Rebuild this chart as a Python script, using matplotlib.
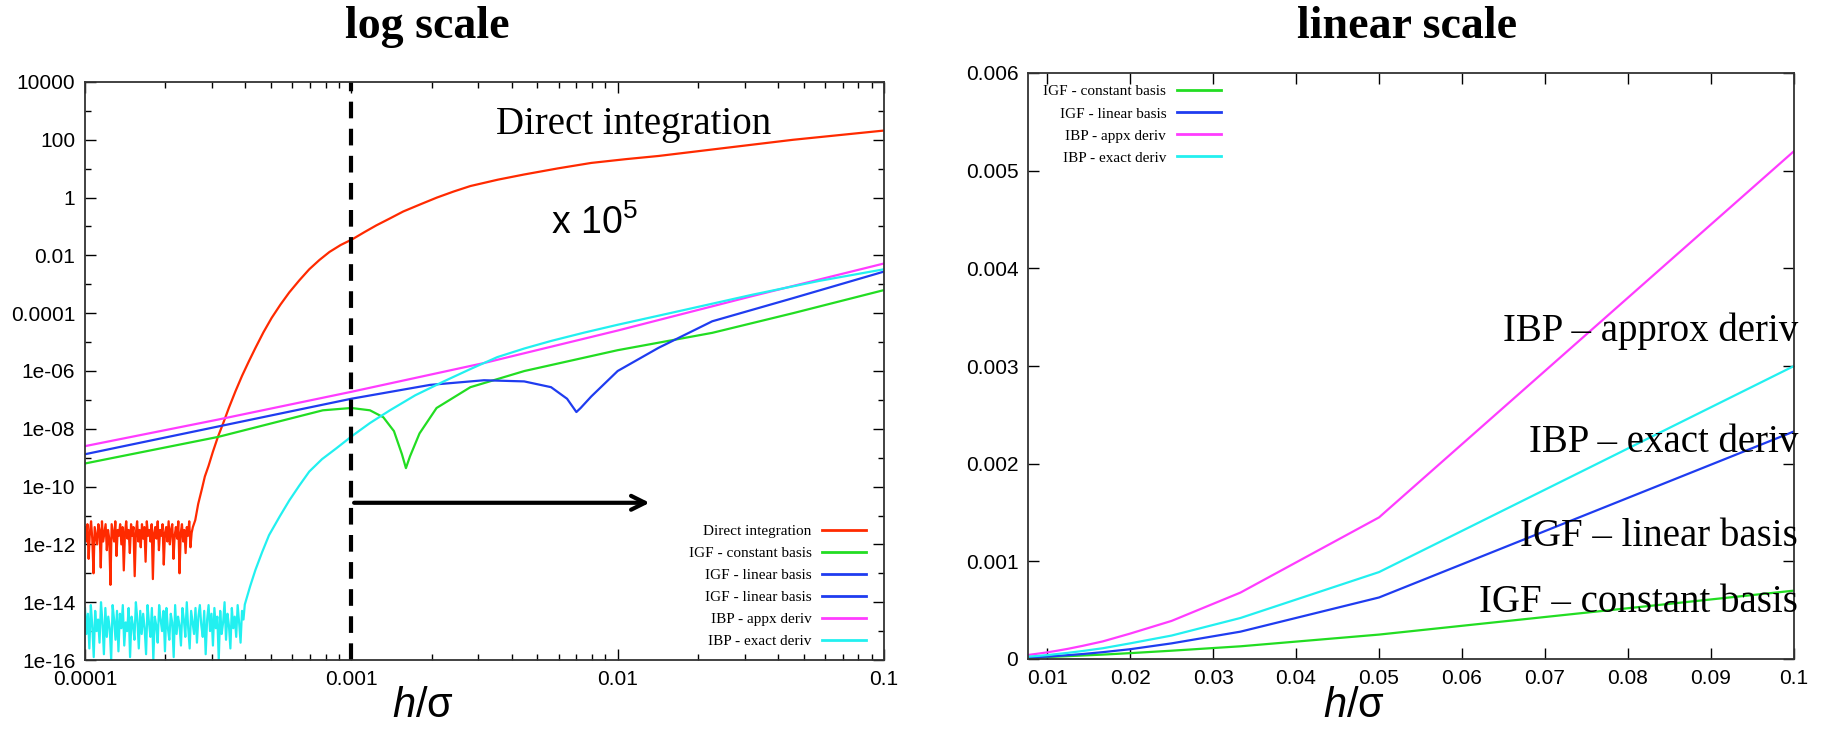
import numpy as np
import matplotlib
matplotlib.use('Agg')
import matplotlib.pyplot as plt
from matplotlib.lines import Line2D
from matplotlib.ticker import FixedLocator, FuncFormatter, LogLocator, NullFormatter

plt.rcParams['font.family'] = ['Liberation Sans', 'DejaVu Sans']
plt.rcParams['mathtext.fontset'] = 'custom'
plt.rcParams['mathtext.it'] = 'Liberation Sans:italic'
plt.rcParams['mathtext.rm'] = 'Liberation Sans'

RED, GREEN, BLUE, MAGENTA, CYAN = '#ff2a00', '#22dd22', '#1f3cf0', '#ff3cff', '#22f0f0'
SERIF = 'Liberation Serif'

# ---------------- log scale panel (values are log10)
red_noise = [-11.4, -11.9, -11.3, -12.5, -11.6, -11.2, -11.8, -13.0, -11.4, -11.7,
             -12.0, -11.3, -11.5, -12.8, -11.2, -11.9, -11.6, -11.3, -12.2, -11.5,
             -11.8, -13.4, -11.3, -11.6, -11.9, -11.2, -12.4, -11.5, -11.7, -11.3,
             -12.0, -11.4, -12.9, -11.6, -11.2, -11.8, -11.5, -12.3, -11.3, -11.7,
             -11.4, -13.1, -11.6, -11.2, -11.9, -11.5, -12.1, -11.3, -11.8, -11.4,
             -12.6, -11.2, -11.7, -11.5, -11.9, -11.3, -13.2, -11.6, -11.4, -11.8,
             -11.2, -12.2, -11.5, -11.7, -11.3, -12.7, -11.6, -11.4, -11.9, -11.2,
             -12.0, -11.5, -11.3, -12.5, -11.7, -11.4, -11.8, -11.2, -13.0, -11.6,
             -11.3, -11.9, -11.5, -12.3, -11.4, -11.7, -11.2, -12.1, -11.6, -11.4]
red_noise_end = -3.595
red_logh = [-3.586, -3.575, -3.561, -3.55, -3.536, -3.52, -3.501, -3.48, -3.46,
            -3.435, -3.41, -3.385, -3.36, -3.33, -3.299, -3.266, -3.233, -3.195,
            -3.158, -3.12, -3.082, -3.04, -2.996, -2.95, -2.906, -2.855, -2.805,
            -2.74, -2.679, -2.616, -2.553, -2.45, -2.351, -2.225, -2.099, -1.97,
            -1.847, -1.72, -1.595, -1.47, -1.342, -1.17, -1.0]
red_logerr = [-11.16, -10.6, -10.08, -9.65, -9.28, -8.8, -8.28, -7.78, -7.28,
              -6.7, -6.16, -5.67, -5.2, -4.66, -4.16, -3.7, -3.28, -2.86,
              -2.48, -2.16, -1.88, -1.64, -1.44, -1.19, -0.96, -0.72, -0.48,
              -0.23, 0.0, 0.21, 0.4, 0.62, 0.8, 1.01, 1.2, 1.33,
              1.44, 1.58, 1.72, 1.86, 2.0, 2.16, 2.32]

green_logh = [-4.0, -3.5, -3.107, -3.0, -2.93, -2.88, -2.84, -2.81, -2.795, -2.78,
              -2.744, -2.68, -2.553, -2.35, -2.0, -1.645, -1.342, -1.0]
green_logerr = [-9.2, -8.28, -7.36, -7.28, -7.36, -7.6, -8.08, -8.88, -9.36, -8.96,
                -8.16, -7.28, -6.56, -6.0, -5.28, -4.68, -4.0, -3.2]

blue_logh = [-4.0, -3.5, -3.0, -2.704, -2.502, -2.351, -2.25, -2.19, -2.155, -2.139,
             -2.099, -2.0, -1.847, -1.645, -1.342, -1.0]
blue_logerr = [-8.88, -7.92, -6.96, -6.48, -6.32, -6.36, -6.56, -6.96, -7.42, -7.28,
               -6.88, -6.0, -5.2, -4.28, -3.48, -2.56]

magenta_logh = [-4.0, -3.5, -3.0, -2.5, -2.0, -1.5, -1.0]
magenta_logerr = [-8.6, -7.68, -6.72, -5.72, -4.6, -3.42, -2.28]

cyan_noise = [-14.2, -15.1, -14.4, -15.6, -14.1, -14.8, -15.9, -14.3, -15.0, -14.6,
              -15.4, -14.0, -14.7, -15.8, -14.2, -15.2, -14.5, -14.9, -16.0, -14.1,
              -14.6, -15.3, -14.3, -15.7, -14.4, -14.9, -14.1, -15.5, -14.7, -15.0,
              -14.2, -15.9, -14.5, -14.8, -15.3, -14.0, -14.6, -15.6, -14.3, -15.1,
              -14.4, -14.9, -15.8, -14.1, -14.7, -15.2, -14.2, -16.0, -14.5, -14.8,
              -15.4, -14.1, -14.6, -15.0, -14.3, -15.7, -14.2, -14.9, -15.3, -14.4,
              -14.7, -15.9, -14.1, -15.1, -14.5, -14.8, -15.5, -14.2, -14.6, -15.2,
              -14.0, -14.9, -15.6, -14.3, -14.7, -15.1, -14.2, -15.4, -14.5, -14.1,
              -14.8, -15.2, -14.3, -15.8, -14.6, -14.1, -15.0, -14.4, -15.5, -14.2,
              -14.9, -14.5, -16.0, -14.3, -15.1, -14.7, -14.0, -15.3, -14.4, -14.8,
              -15.6, -14.2, -14.9, -14.5, -15.2, -14.1, -14.7, -15.4, -14.3, -14.6]
cyan_noise_end = -3.405
cyan_logh = [-3.40, -3.38, -3.36, -3.335, -3.309, -3.27, -3.233, -3.195, -3.158,
             -3.11, -3.057, -2.996, -2.93, -2.855, -2.76, -2.653, -2.55, -2.452,
             -2.35, -2.25, -2.125, -2.0, -1.746, -1.494, -1.242, -1.0]
cyan_logerr = [-14.08, -13.45, -12.88, -12.27, -11.68, -11.05, -10.48, -9.96, -9.48,
               -9.05, -8.68, -8.24, -7.8, -7.36, -6.84, -6.36, -5.92, -5.52,
               -5.22, -4.96, -4.67, -4.4, -3.88, -3.36, -2.88, -2.48]

# ---------------- linear scale panel
lin_h = [0.1, 0.05, 0.0333, 0.025, 0.02, 0.0167, 0.0143, 0.0125, 0.0111, 0.01,
         0.0091, 0.0083, 0.0077]
lin_green = [0.70e-3, 0.25e-3, 0.13e-3, 0.085e-3, 0.06e-3, 0.045e-3, 0.036e-3,
             0.029e-3, 0.024e-3, 0.02e-3, 0.017e-3, 0.015e-3, 0.013e-3]
lin_blue = [2.33e-3, 0.63e-3, 0.28e-3, 0.16e-3, 0.10e-3, 0.07e-3, 0.051e-3,
            0.039e-3, 0.031e-3, 0.025e-3, 0.021e-3, 0.017e-3, 0.015e-3]
lin_magenta = [5.2e-3, 1.45e-3, 0.68e-3, 0.39e-3, 0.26e-3, 0.18e-3, 0.135e-3,
               0.104e-3, 0.083e-3, 0.068e-3, 0.057e-3, 0.048e-3, 0.041e-3]
lin_cyan = [3.0e-3, 0.89e-3, 0.42e-3, 0.24e-3, 0.16e-3, 0.11e-3, 0.082e-3,
            0.063e-3, 0.05e-3, 0.04e-3, 0.033e-3, 0.028e-3, 0.024e-3]

labels_log = ['Direct integration', 'IGF - constant basis', 'IGF - linear basis',
              'IGF - linear basis', 'IBP - appx deriv', 'IBP - exact deriv']
labels_lin = ['IGF - constant basis', 'IGF - linear basis', 'IBP - appx deriv',
              'IBP - exact deriv']
annot_lin = ['IBP \u2013 approx deriv', 'IBP \u2013 exact deriv',
             'IGF \u2013 linear basis', 'IGF \u2013 constant basis']
annot_lin_y = [0.00336, 0.00222, 0.00125, 0.00058]

fig = plt.figure(figsize=(18.23, 7.32), dpi=100)
ax1 = fig.add_axes([85 / 1823, 72 / 732, 799 / 1823, 578 / 732])
ax2 = fig.add_axes([1028 / 1823, 73 / 732, 766 / 1823, 586 / 732])

lw = 1.6
p = lambda v: 10.0 ** np.asarray(v)

# red / cyan: noise floor then the rise
red_x = np.concatenate([np.logspace(-4, red_noise_end, len(red_noise)), p(red_logh)])
red_y = np.concatenate([p(red_noise), p(red_logerr)])
cyan_x = np.concatenate([np.logspace(-4, cyan_noise_end, len(cyan_noise)), p(cyan_logh)])
cyan_y = np.concatenate([p(cyan_noise), p(cyan_logerr)])

ax1.plot(red_x, red_y, color=RED, lw=lw)
ax1.plot(p(green_logh), p(green_logerr), color=GREEN, lw=lw)
ax1.plot(p(blue_logh), p(blue_logerr), color=BLUE, lw=lw)
ax1.plot(p(magenta_logh), p(magenta_logerr), color=MAGENTA, lw=lw)
ax1.plot(cyan_x, cyan_y, color=CYAN, lw=lw)

ax1.set_xscale('log')
ax1.set_yscale('log')
ax1.set_xlim(1e-4, 0.1)
ax1.set_ylim(1e-16, 1e4)
ax1.yaxis.set_major_locator(FixedLocator(10.0 ** np.arange(-16, 5, 2)))
ax1.yaxis.set_minor_locator(FixedLocator(10.0 ** np.arange(-15, 5, 2)))
ax1.yaxis.set_minor_formatter(NullFormatter())
ax1.xaxis.set_major_locator(FixedLocator([1e-4, 1e-3, 1e-2, 1e-1]))
ax1.xaxis.set_minor_locator(LogLocator(base=10, subs=np.arange(2, 10)))
ax1.xaxis.set_minor_formatter(NullFormatter())
gfmt = FuncFormatter(lambda v, pos: '%g' % v)
ax1.xaxis.set_major_formatter(gfmt)
ax1.yaxis.set_major_formatter(gfmt)

# dashed marker at h = 0.001 and the arrow
ax1.axvline(1e-3, color='black', lw=3, ls=(0, (4, 2.5)))
ax1.annotate('', xy=(0.0135, 10 ** -10.56), xytext=(1e-3, 10 ** -10.56),
             arrowprops=dict(arrowstyle='->', color='black', lw=3, mutation_scale=25))
ax1.text(0.0035, 330, 'Direct integration', family=SERIF, fontsize=28, va='center')
ax1.text(0.0056, 0.13, r'x 10$^{\mathregular{5}}$', fontsize=27, va='center')

handles = [Line2D([], [], color=c, lw=2) for c in [RED, GREEN, BLUE, BLUE, MAGENTA, CYAN]]
ax1.legend(handles, labels_log, loc='lower right', bbox_to_anchor=(0.978, 0.02),
           borderaxespad=0, borderpad=0, frameon=False, markerfirst=False,
           prop={'family': SERIF, 'size': 11}, handlelength=2.9, handletextpad=0.7,
           labelspacing=0.55)

# linear panel
ax2.plot(lin_h, lin_green, color=GREEN, lw=lw)
ax2.plot(lin_h, lin_blue, color=BLUE, lw=lw)
ax2.plot(lin_h, lin_magenta, color=MAGENTA, lw=lw)
ax2.plot(lin_h, lin_cyan, color=CYAN, lw=lw)
ax2.set_xlim(min(lin_h), 0.1)
ax2.set_ylim(0, 0.006)
ax2.xaxis.set_major_locator(FixedLocator(np.arange(1, 11) / 100))
ax2.yaxis.set_major_locator(FixedLocator(np.arange(0, 7) / 1000))
ax2.xaxis.set_major_formatter(gfmt)
ax2.yaxis.set_major_formatter(gfmt)
for txt, yv in zip(annot_lin, annot_lin_y):
    ax2.text(0.1005, yv, txt, family=SERIF, fontsize=28, ha='right', va='center',
             clip_on=False)
handles = [Line2D([], [], color=c, lw=2) for c in [GREEN, BLUE, MAGENTA, CYAN]]
ax2.legend(handles, labels_lin, loc='upper left', bbox_to_anchor=(0.02, 0.98),
           borderaxespad=0, borderpad=0, frameon=False, markerfirst=False,
           prop={'family': SERIF, 'size': 11}, handlelength=2.9, handletextpad=0.7,
           labelspacing=0.55)

for ax, fs in [(ax1, 15), (ax2, 15)]:
    ax.tick_params(which='both', direction='in', top=True, right=True, width=1,
                   labelsize=fs, pad=7)
    ax.tick_params(which='major', length=8)
    ax.tick_params(which='minor', length=4)
    for s in ax.spines.values():
        s.set_color('#333333')
        s.set_linewidth(1.3)

ax1.set_title('log scale', family=SERIF, fontweight='bold', fontsize=33,
              x=0.429, y=1.076, pad=0)
ax2.set_title('linear scale', family=SERIF, fontweight='bold', fontsize=33,
              x=0.495, y=1.060, pad=0)
ax1.set_xlabel(r'$h$/σ', fontsize=30)
ax2.set_xlabel(r'$h$/σ', fontsize=30)
ax1.xaxis.set_label_coords(0.423, -0.045)
ax2.xaxis.set_label_coords(0.4256, -0.046)

fig.savefig('out.png', dpi=100)
